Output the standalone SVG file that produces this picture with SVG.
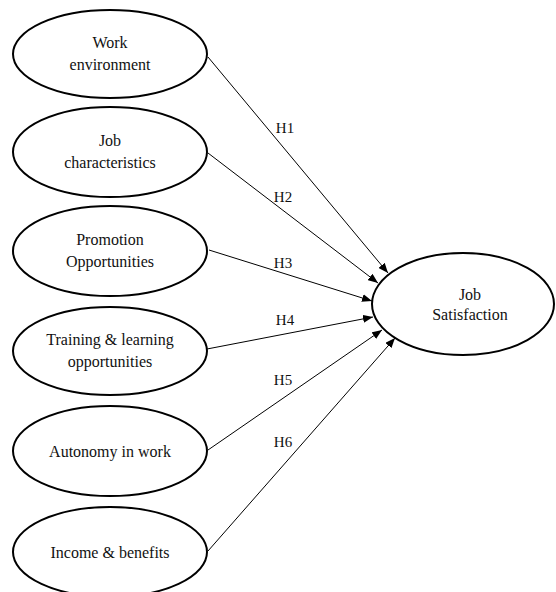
<svg xmlns="http://www.w3.org/2000/svg" width="556" height="592" viewBox="0 0 556 592">
<style>
.n{fill:#fff;stroke:#000;stroke-width:2}
.t{font-size:16px;fill:#111;text-anchor:middle}
.l{font-size:15px;fill:#111;text-anchor:middle}
.c{stroke:#000;stroke-width:1;fill:none;marker-end:url(#a)}
</style>
<defs>
<marker id="a" viewBox="0 0 10 8" refX="10" refY="4" markerWidth="10" markerHeight="8" markerUnits="userSpaceOnUse" orient="auto">
<path d="M0,0 L10,4 L0,8 Z" fill="#000"/>
</marker>
</defs>
<rect width="556" height="592" fill="#fff"/>
<g font-family="'Liberation Serif', 'DejaVu Serif', serif">
<g id="connectors">
<line class="c" x1="208" y1="57" x2="388" y2="273"/>
<line class="c" x1="208" y1="153" x2="378" y2="283"/>
<line class="c" x1="209" y1="250" x2="372" y2="301"/>
<line class="c" x1="207" y1="349" x2="373" y2="317"/>
<line class="c" x1="208" y1="450" x2="382" y2="330"/>
<line class="c" x1="208" y1="551" x2="395" y2="338"/>
<text class="l" x="285" y="133">H1</text>
<text class="l" x="283" y="202">H2</text>
<text class="l" x="283" y="268">H3</text>
<text class="l" x="285" y="325">H4</text>
<text class="l" x="283" y="385">H5</text>
<text class="l" x="283" y="447">H6</text>
</g>
<g id="n1"><ellipse class="n" cx="110" cy="54" rx="97" ry="44"/><text class="t" x="110" y="48">Work</text><text class="t" x="110" y="70">environment</text></g>
<g id="n2"><ellipse class="n" cx="110" cy="152" rx="97" ry="45"/><text class="t" x="110" y="146">Job</text><text class="t" x="110" y="168">characteristics</text></g>
<g id="n3"><ellipse class="n" cx="110" cy="251" rx="97" ry="45"/><text class="t" x="110" y="245">Promotion</text><text class="t" x="110" y="267">Opportunities</text></g>
<g id="n4"><ellipse class="n" cx="110" cy="351" rx="97" ry="44"/><text class="t" x="110" y="345">Training &amp; learning</text><text class="t" x="110" y="367">opportunities</text></g>
<g id="n5"><ellipse class="n" cx="110" cy="451" rx="97" ry="45"/><text class="t" x="110" y="457">Autonomy in work</text></g>
<g id="n6"><ellipse class="n" cx="110" cy="552" rx="97" ry="45"/><text class="t" x="110" y="558">Income &amp; benefits</text></g>
<g id="n7"><ellipse class="n" cx="463" cy="304" rx="91" ry="51"/><text class="t" x="470" y="300">Job</text><text class="t" x="470" y="320">Satisfaction</text></g>
</g>
</svg>
